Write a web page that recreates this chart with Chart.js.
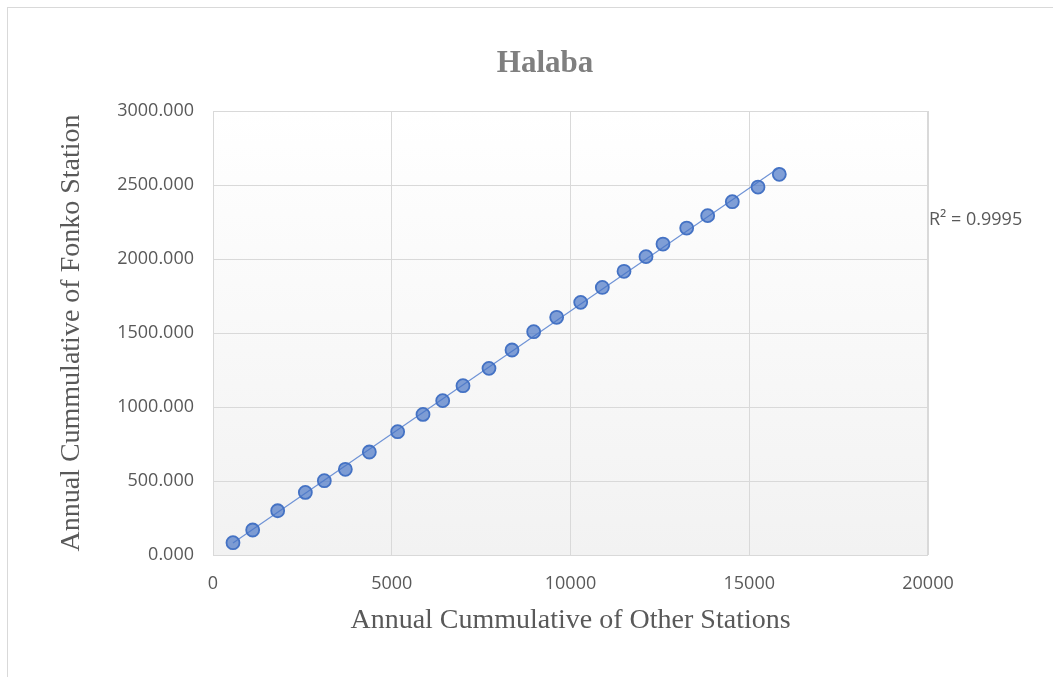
<!DOCTYPE html>
<html>
<head>
<meta charset="utf-8">
<script src="https://cdn.jsdelivr.net/npm/chart.js@4/dist/chart.umd.min.js"></script>
<style>
  html, body { margin: 0; padding: 0; background: #fff; overflow: hidden; }
  #wrap { position: relative; width: 1053px; height: 677px; }
  #frame { position: absolute; left: 7px; top: 7px; width: 1060px; height: 690px;
           border-left: 1px solid #d9d9d9; border-top: 1px solid #d9d9d9; }
  canvas { position: absolute; left: 0; top: 0; }
</style>
</head>
<body>
<div id="wrap">
  <div id="frame"></div>
  <canvas id="massChart" width="1053" height="677"></canvas>
</div>
<script>
// cumulative values
const otherStations = [559, 1110, 1809, 2583, 3114, 3702, 4373, 5165, 5874, 6425, 6993, 7720, 8364,
  8970, 9613, 10285, 10890, 11497, 12112, 12587, 13250, 13837, 14526, 15245, 15841];
const fonkoStation = [83, 169, 299, 423, 502, 579, 696, 833, 950, 1043, 1144, 1261, 1385,
  1509, 1606, 1707, 1808, 1917, 2016, 2101, 2209, 2293, 2387, 2486, 2572];
const chartTitle = 'Halaba';
const rSquaredLabel = 'R\u00B2 = 0.9995';

const points = otherStations.map((x, i) => ({ x: x, y: fonkoStation[i] }));

// least squares trendline through the points
const n = points.length;
const mx = otherStations.reduce((a, b) => a + b, 0) / n;
const my = fonkoStation.reduce((a, b) => a + b, 0) / n;
let sxy = 0, sxx = 0;
points.forEach(p => { sxy += (p.x - mx) * (p.y - my); sxx += (p.x - mx) * (p.x - mx); });
const slope = sxy / sxx;
const intercept = my - slope * mx;
const xFirst = otherStations[0], xLast = otherStations[n - 1];
const trend = [
  { x: xFirst, y: intercept + slope * xFirst },
  { x: xLast, y: intercept + slope * xLast }
];

const tickFont = { family: '"Open Sans", sans-serif', size: 18 };
const axisTitleFont = { family: '"Liberation Serif", "Times New Roman", serif', size: 28 };

const plotDecor = {
  id: 'plotDecor',
  beforeDraw(chart) {
    const { ctx, chartArea: a } = chart;
    const g = ctx.createLinearGradient(0, a.top, 0, a.bottom);
    g.addColorStop(0, '#ffffff');
    g.addColorStop(1, '#f2f2f2');
    ctx.save();
    ctx.fillStyle = g;
    ctx.fillRect(a.left, a.top, a.right - a.left, a.bottom - a.top);
    ctx.restore();
  },
  afterDraw(chart) {
    const { ctx, chartArea: a } = chart;
    ctx.save();
    ctx.strokeStyle = '#d9d9d9';
    ctx.lineWidth = 1;
    ctx.strokeRect(a.left + 0.5, a.top + 0.5, a.right - a.left - 1, a.bottom - a.top);
    // chart title
    ctx.fillStyle = '#7f7f7f';
    ctx.font = 'bold 31px "Liberation Serif", serif';
    ctx.textAlign = 'center';
    ctx.textBaseline = 'middle';
    ctx.fillText(chartTitle, 545, 64);
    // R squared label at the end of the trendline
    ctx.fillStyle = '#595959';
    ctx.font = '18px "Open Sans", sans-serif';
    ctx.textAlign = 'left';
    ctx.fillText(rSquaredLabel, a.right + 1, 220);
    ctx.restore();
  }
};

const ctx = document.getElementById('massChart').getContext('2d');
new Chart(ctx, {
  type: 'scatter',
  data: {
    datasets: [{
      label: 'Halaba',
      data: points,
      order: 0,
      pointRadius: 6.5,
      pointHoverRadius: 6.5,
      backgroundColor: 'rgba(68,114,196,0.68)',
      borderColor: '#4472c4',
      borderWidth: 1.8
    }, {
      label: 'Linear',
      type: 'line',
      data: trend,
      order: 1,
      showLine: true,
      pointRadius: 0,
      borderColor: '#6f93d6',
      borderWidth: 1.2,
      fill: false
    }]
  },
  options: {
    responsive: false,
    animation: false,
    layout: { padding: { left: 0, top: 111, right: 125, bottom: 0 } },
    plugins: {
      legend: { display: false },
      tooltip: { enabled: false },
      title: { display: false }
    },
    scales: {
      x: {
        type: 'linear',
        min: 0,
        max: 20000,
        border: { display: false },
        grid: { color: '#d9d9d9', drawTicks: false },
        ticks: {
          stepSize: 5000,
          padding: 18,
          color: '#595959',
          font: tickFont,
          callback: v => String(v)
        },
        title: {
          display: true,
          text: 'Annual Cummulative of Other Stations',
          color: '#595959',
          font: axisTitleFont,
          padding: { top: 40, bottom: 40 }
        },
        afterFit(scale) { scale.height = 122; }
      },
      y: {
        min: 0,
        max: 3000,
        border: { display: false },
        grid: { color: '#d9d9d9', drawTicks: false },
        ticks: {
          stepSize: 500,
          padding: 19,
          color: '#595959',
          font: tickFont,
          callback: v => Number(v).toFixed(3)
        },
        title: {
          display: true,
          text: 'Annual Cummulative of Fonko Station',
          color: '#595959',
          font: axisTitleFont,
          padding: { top: 55, bottom: 55 }
        },
        afterFit(scale) { scale.width = 213; }
      }
    }
  },
  plugins: [plotDecor]
});
</script>
</body>
</html>
